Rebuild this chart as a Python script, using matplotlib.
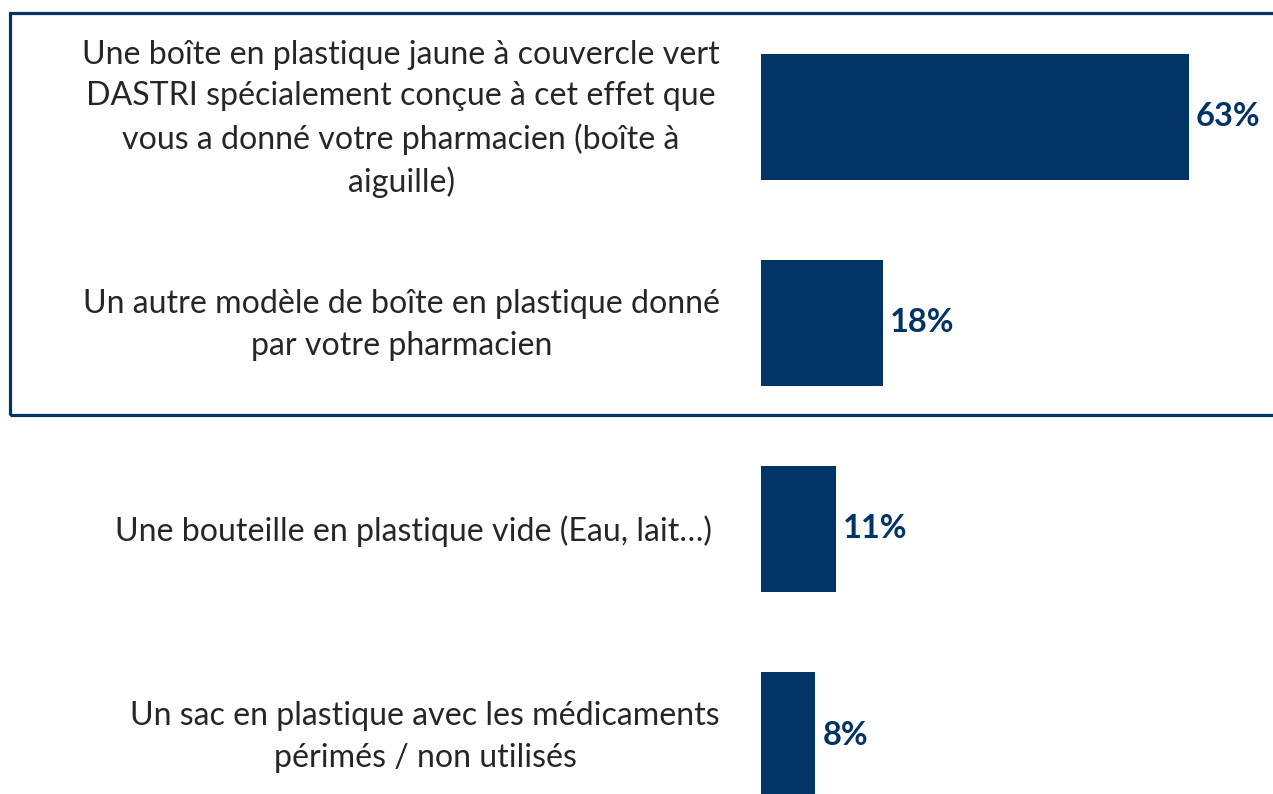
import matplotlib
matplotlib.use("Agg")
import matplotlib.pyplot as plt
from matplotlib.patches import Rectangle

categories = [
    "Une boîte en plastique jaune à couvercle vert\nDASTRI spécialement conçue à cet effet que\nvous a donné votre pharmacien (boîte à\naiguille)",
    "Un autre modèle de boîte en plastique donné\npar votre pharmacien",
    "Une bouteille en plastique vide (Eau, lait…)",
    "Un sac en plastique avec les médicaments\npérimés / non utilisés",
]
values = [63, 18, 11, 8]
value_labels = ["63%", "18%", "11%", "8%"]

W, H = 1273, 794
NAVY = "#003366"
TEXT = "#262626"
FONT = "Lato"

fig = plt.figure(figsize=(W / 100, H / 100), dpi=100)
fig.patch.set_facecolor("white")

# axes spanning from bar origin (x=761 px) to right edge
ax_left = 761 / W
ax = fig.add_axes([ax_left, 0, 1 - ax_left, 1])
px_per_unit = 428 / 63.0
ax.set_xlim(0, (W - 761) / px_per_unit)
band = 206.0
c0 = 117.0
ax.set_ylim((H - c0) / band, -c0 / band)
ax.axis("off")

ypos = list(range(len(values)))
ax.barh(ypos, values, height=126 / band, color=NAVY, edgecolor="none")

for y, v, lab in zip(ypos, values, value_labels):
    ax.text(v + 7 / px_per_unit, y, lab, va="center", ha="left",
            fontsize=23.5, fontweight="bold", color=NAVY, family=FONT)

# category labels, right aligned block near x=720 px, centered lines
right_edges = [720, 720, 712, 720]
for y, cat, rx in zip(ypos, categories, right_edges):
    ypix = c0 + band * y + 2
    fig.text(rx / W, 1 - ypix / H, cat, ha="right", va="center",
             multialignment="center", fontsize=23.1, color=TEXT,
             family=FONT, linespacing=1.47)

# frame around first two items
fig.add_artist(Rectangle((9.5 / W, 1 - 414.5 / H), (W + 20) / W, (414.5 - 12.5) / H,
                         transform=fig.transFigure, fill=False,
                         edgecolor=NAVY, linewidth=2.3, clip_on=False))

fig.savefig("out.png", dpi=100, facecolor="white")
